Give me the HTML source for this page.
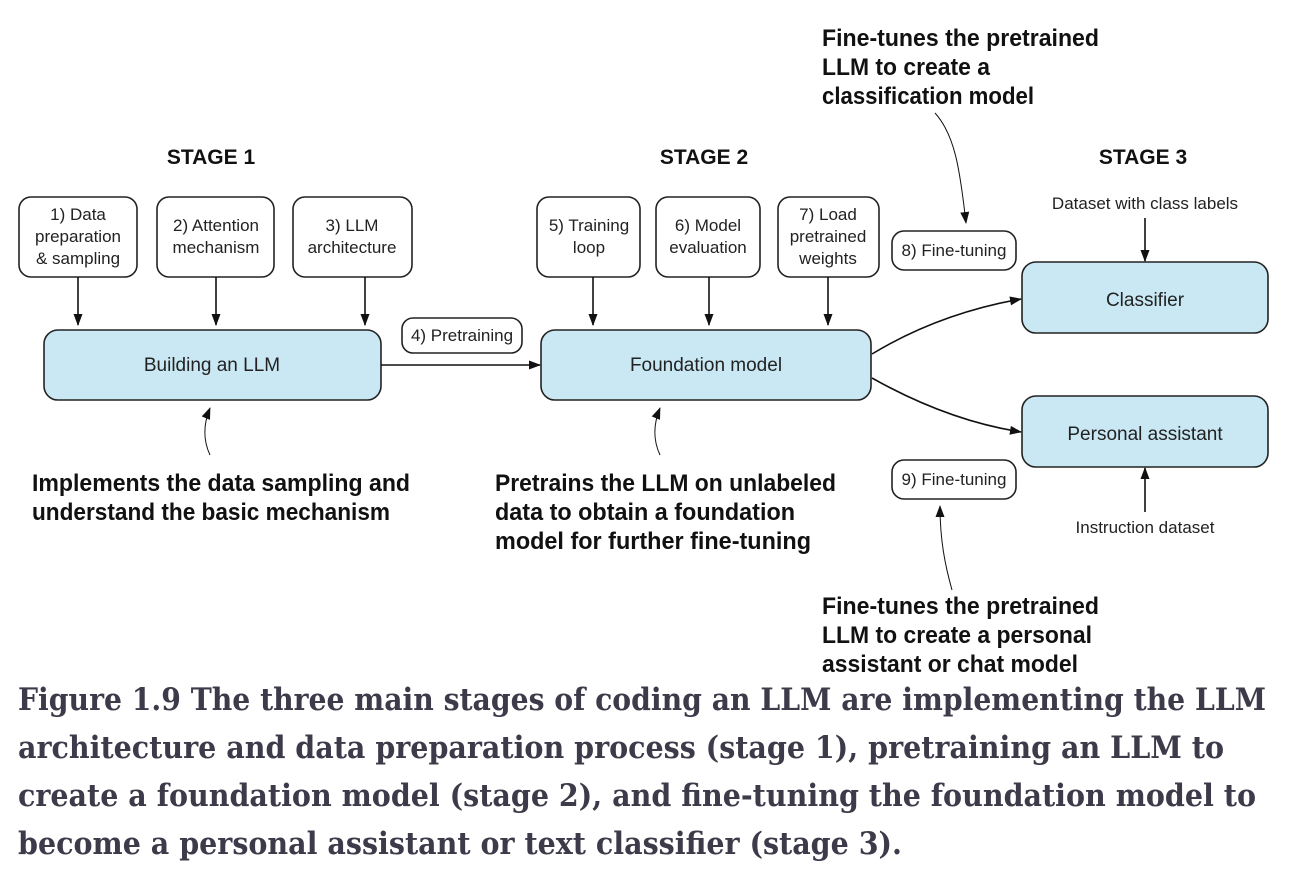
<!DOCTYPE html>
<html><head><meta charset="utf-8"><style>
html,body{margin:0;padding:0;background:#fff;}
svg{display:block;}
.s{font-family:"Liberation Sans",Arial,sans-serif;fill:#222;}
.b{font-family:"Liberation Sans Narrow","Liberation Sans",sans-serif;font-weight:bold;fill:#111;}
.c{font-family:"DejaVu Serif Condensed","Liberation Serif","DejaVu Serif",serif;font-weight:bold;fill:#3d3b4a;font-size:31px;}
</style></head><body>
<svg width="1316" height="880" viewBox="0 0 1316 880" xmlns="http://www.w3.org/2000/svg">
<defs>
<marker id="a" markerWidth="12" markerHeight="12" refX="11" refY="6" orient="auto" markerUnits="userSpaceOnUse">
<path d="M0,1.5 L12,6 L0,10.5 z" fill="#111"/></marker>
</defs>
<g stroke="#222" stroke-width="1.6" fill="#fff">
<rect x="19" y="197" width="118" height="80" rx="12"/>
<rect x="157" y="197" width="117" height="80" rx="12"/>
<rect x="293" y="197" width="119" height="80" rx="12"/>
<rect x="537" y="197" width="103" height="80" rx="12"/>
<rect x="656" y="197" width="104" height="80" rx="12"/>
<rect x="778" y="197" width="101" height="80" rx="12"/>
<rect x="402" y="318" width="120" height="35" rx="11"/>
<rect x="892" y="231" width="124" height="39" rx="12"/>
<rect x="892" y="460" width="124" height="39" rx="12"/>
</g>
<g stroke="#222" stroke-width="1.6" fill="#c9e8f3">
<rect x="44" y="330" width="337" height="70" rx="14"/>
<rect x="541" y="330" width="330" height="70" rx="14"/>
<rect x="1022" y="262" width="246" height="71" rx="14"/>
<rect x="1022" y="396" width="246" height="71" rx="14"/>
</g>
<g stroke="#111" stroke-width="1.6" fill="none" marker-end="url(#a)">
<line x1="78" y1="277" x2="78" y2="325"/>
<line x1="216" y1="277" x2="216" y2="325"/>
<line x1="365" y1="277" x2="365" y2="325"/>
<line x1="593" y1="277" x2="593" y2="325"/>
<line x1="709" y1="277" x2="709" y2="325"/>
<line x1="828" y1="277" x2="828" y2="325"/>
<line x1="381" y1="365" x2="540" y2="365"/>
<line x1="1145" y1="218" x2="1145" y2="261"/>
<line x1="1145" y1="512" x2="1145" y2="468"/>
<path d="M872,354 C920,325 970,308 1021,299"/>
<path d="M872,378 C920,405 970,424 1021,432"/>
<path d="M210,455 C203,440 203,425 210,408" stroke-width="1"/>
<path d="M660,455 C653,440 653,425 660,408" stroke-width="1"/>
<path d="M935,113 C955,135 960,170 966,223" stroke-width="1"/>
<path d="M952,590 C945,565 940,540 940,506" stroke-width="1"/>
</g>
<g class="s" font-size="17" text-anchor="middle">
<text x="78" y="220">1) Data</text><text x="78" y="242">preparation</text><text x="78" y="264">&amp; sampling</text>
<text x="216" y="231">2) Attention</text><text x="216" y="253">mechanism</text>
<text x="352" y="231">3) LLM</text><text x="352" y="253">architecture</text>
<text x="589" y="231">5) Training</text><text x="589" y="253">loop</text>
<text x="708" y="231">6) Model</text><text x="708" y="253">evaluation</text>
<text x="828" y="220">7) Load</text><text x="828" y="242">pretrained</text><text x="828" y="264">weights</text>
<text x="462" y="341">4) Pretraining</text>
<text x="954" y="256">8) Fine-tuning</text>
<text x="954" y="485">9) Fine-tuning</text>
<text x="1145" y="209">Dataset with class labels</text>
<text x="1145" y="533">Instruction dataset</text>
</g>
<g class="s" font-size="19" text-anchor="middle">
<text x="212" y="371">Building an LLM</text>
<text x="706" y="371">Foundation model</text>
<text x="1145" y="306">Classifier</text>
<text x="1145" y="440">Personal assistant</text>
</g>
<g class="s" font-size="21" font-weight="bold" text-anchor="middle" style="fill:#111">
<text x="211" y="164">STAGE 1</text><text x="704" y="164">STAGE 2</text><text x="1143" y="164">STAGE 3</text>
</g>
<g class="b" font-size="24">
<text x="32" y="491" textLength="378" lengthAdjust="spacingAndGlyphs">Implements the data sampling and</text>
<text x="32" y="520" textLength="358" lengthAdjust="spacingAndGlyphs">understand the basic mechanism</text>
<text x="495" y="491" textLength="341" lengthAdjust="spacingAndGlyphs">Pretrains the LLM on unlabeled</text>
<text x="495" y="520" textLength="300" lengthAdjust="spacingAndGlyphs">data to obtain a foundation</text>
<text x="495" y="549" textLength="316" lengthAdjust="spacingAndGlyphs">model for further fine-tuning</text>
<text x="822" y="46" textLength="277" lengthAdjust="spacingAndGlyphs">Fine-tunes the pretrained</text>
<text x="822" y="75" textLength="168" lengthAdjust="spacingAndGlyphs">LLM to create a</text>
<text x="822" y="104" textLength="212" lengthAdjust="spacingAndGlyphs">classification model</text>
<text x="822" y="614" textLength="277" lengthAdjust="spacingAndGlyphs">Fine-tunes the pretrained</text>
<text x="822" y="643" textLength="270" lengthAdjust="spacingAndGlyphs">LLM to create a personal</text>
<text x="822" y="672" textLength="256" lengthAdjust="spacingAndGlyphs">assistant or chat model</text>
</g>
<g class="c">
<text x="18" y="710" textLength="1248" lengthAdjust="spacingAndGlyphs">Figure 1.9 The three main stages of coding an LLM are implementing the LLM</text>
<text x="18" y="758" textLength="1206" lengthAdjust="spacingAndGlyphs">architecture and data preparation process (stage 1), pretraining an LLM to</text>
<text x="18" y="806" textLength="1238" lengthAdjust="spacingAndGlyphs">create a foundation model (stage 2), and fine-tuning the foundation model to</text>
<text x="18" y="854" textLength="884" lengthAdjust="spacingAndGlyphs">become a personal assistant or text classifier (stage 3).</text>
</g>
</svg>
</body></html>
